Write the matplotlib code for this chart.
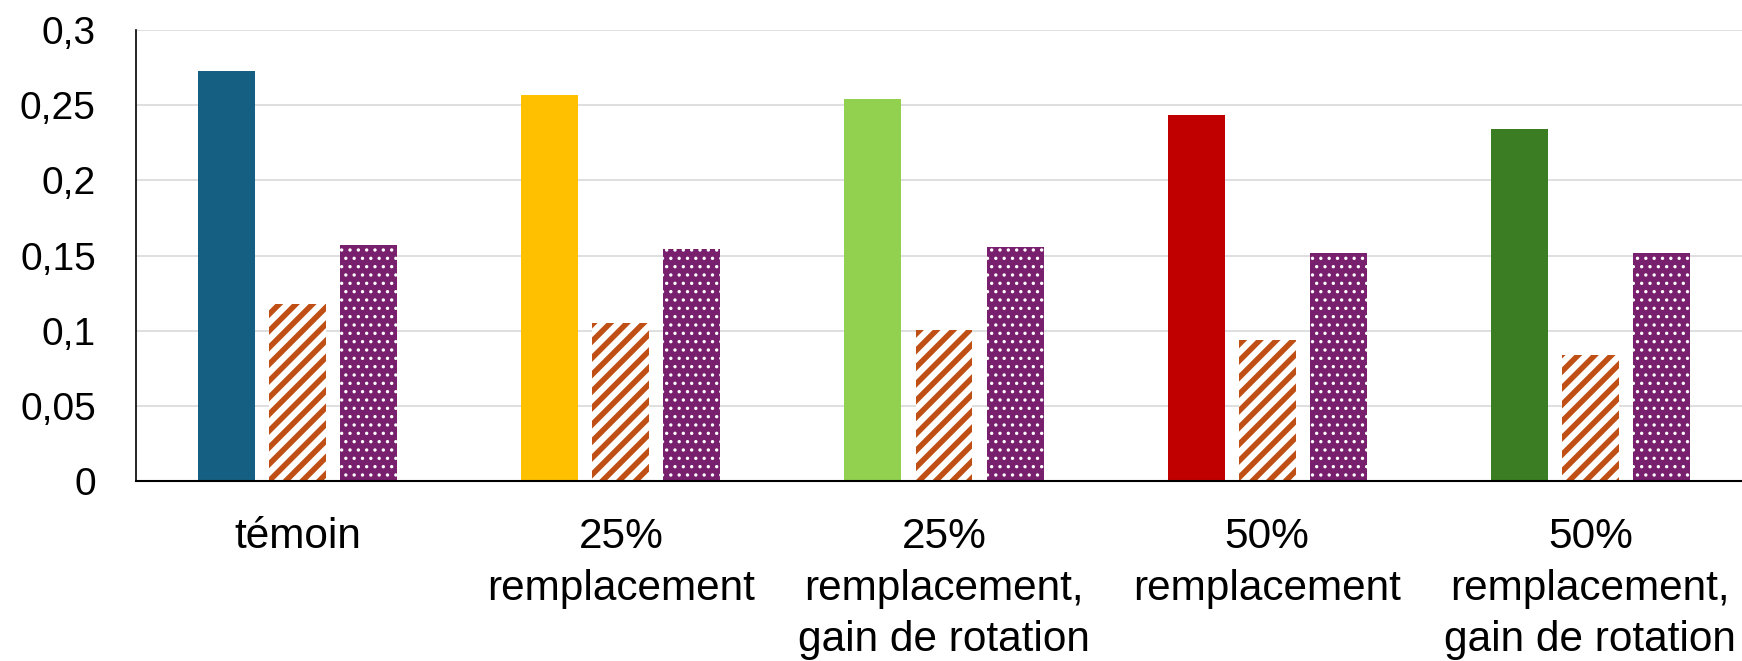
import numpy as np
import matplotlib
matplotlib.use("Agg")
import matplotlib.pyplot as plt

plt.rcParams.update({
    "font.family": ["Liberation Sans", "DejaVu Sans"],
    "hatch.linewidth": 4.0,
})

# Data
categories = ["témoin", "25%\nremplacement", "25%\nremplacement,\ngain de rotation",
              "50%\nremplacement", "50%\nremplacement,\ngain de rotation"]
serie_pleine = [0.273, 0.257, 0.254, 0.2435, 0.234]
serie_hachuree = [0.118, 0.105, 0.1005, 0.094, 0.084]
serie_pointillee = [0.157, 0.154, 0.1556, 0.152, 0.152]
couleurs_pleines = ["#156082", "#FFC000", "#92D050", "#C00000", "#3A7D22"]
yticks = [0, 0.05, 0.1, 0.15, 0.2, 0.25, 0.3]
ytick_labels = ["0", "0,05", "0,1", "0,15", "0,2", "0,25", "0,3"]

fig = plt.figure(figsize=(17.42, 6.61), dpi=100)
ax = fig.add_axes([0.0781, 0.2723, 0.9276, 0.6823])

x = np.arange(len(categories))
step = 0.22
width = 0.176

ax.bar(x - step, serie_pleine, width, color=couleurs_pleines, zorder=3)

hatched = ax.bar(x, serie_hachuree, width, facecolor="white", edgecolor="#C04F15",
                 linewidth=0, hatch="//", zorder=3)
dotted = ax.bar(x + step, serie_pointillee, width, facecolor="#78206E", edgecolor="white",
                linewidth=0, hatch="..", zorder=3)
for b in hatched:
    if hasattr(b, "set_hatch_linewidth"):
        b.set_hatch_linewidth(4.0)
for b in dotted:
    if hasattr(b, "set_hatch_linewidth"):
        b.set_hatch_linewidth(1.2)

ax.set_xlim(-0.5, len(categories) - 0.5)
ax.set_ylim(0, 0.3)
ax.set_yticks(yticks)
ax.set_yticklabels(ytick_labels, fontsize=28)
ax.set_xticks(x)
ax.set_xticklabels(categories, fontsize=30.5, linespacing=1.37)
ax.tick_params(axis="y", length=0, pad=29)
ax.tick_params(axis="x", length=0, pad=26)

ax.grid(axis="y", color="#D9D9D9", linewidth=1.2, zorder=0)
ax.set_axisbelow(True)
for side in ["top", "right"]:
    ax.spines[side].set_visible(False)
ax.spines["left"].set_color("black")
ax.spines["left"].set_linewidth(1.2)
ax.spines["bottom"].set_color("black")
ax.spines["bottom"].set_linewidth(1.5)
ax.spines["bottom"].set_zorder(4)

fig.savefig("out.png", dpi=100)
